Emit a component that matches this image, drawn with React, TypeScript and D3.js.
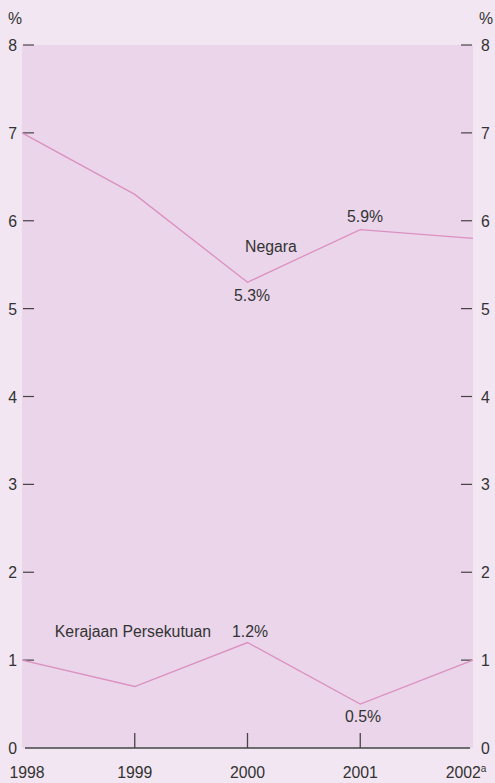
import React from "react";
import * as d3 from "d3";

const years = ["1998", "1999", "2000", "2001", "2002"];
const negara = [7.0, 6.3, 5.3, 5.9, 5.8];
const kerajaan = [1.0, 0.7, 1.2, 0.5, 1.0];
const yTicks = [0, 1, 2, 3, 4, 5, 6, 7, 8];

const W = 495, H = 783;
const left = 22, right = 473, top = 45, bottom = 748;

export default function App() {
  const x = d3.scalePoint<string>().domain(years).range([left, right]);
  const y = d3.scaleLinear().domain([0, 8]).range([bottom, top]);
  const line = d3.line<number>().x((_, i) => x(years[i])!).y((d) => y(d));
  const font = "Liberation Sans, Arial, sans-serif";
  const txt = "#333";
  const lineColor = "#db90c0";
  const fs = 15.8;
  return (
    <svg width={W} height={H} style={{ position: "absolute", left: 0, top: 0 }}>
      <rect x={0} y={0} width={W} height={H} fill="#f1e6f1" />
      <rect x={left} y={top} width={right - left} height={bottom - top} fill="#ead5ea" />
      <g fontFamily={font} fontSize={fs} fill={txt}>
        <text x={8} y={24}>%</text>
        <text x={479} y={24}>%</text>
        {yTicks.map((t) => (
          <g key={t}>
            {t > 0 && <line x1={left + 1} x2={left + 12} y1={y(t)} y2={y(t)} stroke="#444" strokeWidth={1.2} />}
            {t > 0 && <line x1={right - 12} x2={right - 1} y1={y(t)} y2={y(t)} stroke="#444" strokeWidth={1.2} />}
            <text x={17} y={y(t) + 6} textAnchor="end">{t}</text>
            <text x={481} y={y(t) + 6}>{t}</text>
          </g>
        ))}
        <line x1={left + 3} x2={right - 3} y1={bottom} y2={bottom} stroke="#444" strokeWidth={1.5} />
        {years.slice(1, 4).map((yr) => (
          <line key={yr} x1={x(yr)} x2={x(yr)} y1={bottom - 15} y2={bottom} stroke="#444" strokeWidth={1.3} />
        ))}
        {years.map((yr, i) => (
          <text key={yr} x={i === 0 ? 27 : i === 4 ? 466 : x(yr)!} y={778} textAnchor="middle">
            {yr}
            {i === 4 && <tspan fontSize={10} dy={-6}>a</tspan>}
          </text>
        ))}
      </g>
      <path d={line(negara)!} fill="none" stroke={lineColor} strokeWidth={1.3} />
      <path d={line(kerajaan)!} fill="none" stroke={lineColor} strokeWidth={1.3} />
      <g fontFamily={font} fontSize={fs} fill={txt} textAnchor="middle">
        <text x={271} y={252}>Negara</text>
        <text x={252} y={301}>5.3%</text>
        <text x={365} y={222}>5.9%</text>
        <text x={133} y={637}>Kerajaan Persekutuan</text>
        <text x={250} y={637}>1.2%</text>
        <text x={363} y={722}>0.5%</text>
      </g>
    </svg>
  );
}
